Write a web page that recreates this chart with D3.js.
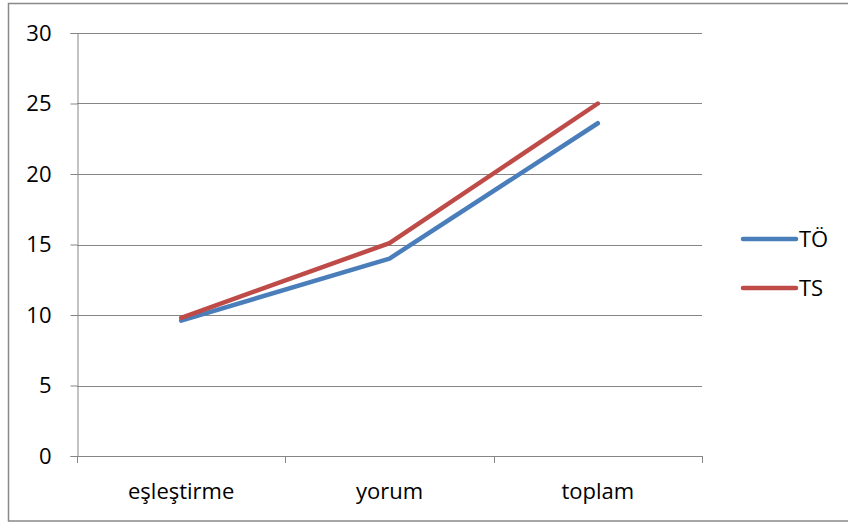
<!DOCTYPE html>
<html>
<head>
<meta charset="utf-8">
<script src="https://cdn.jsdelivr.net/npm/d3@7"></script>
<style>
  html, body { margin: 0; padding: 0; background: #fff; }
  svg { display: block; }
  text { font-family: "Open Sans", sans-serif; fill: #000; }
</style>
</head>
<body>
<svg id="chart" width="848" height="523"></svg>
<script>
const categories = ["eşleştirme", "yorum", "toplam"];
const seriesNames = ["TÖ", "TS"];
const valuesTO = [9.6, 14.0, 23.6];
const valuesTS = [9.8, 15.1, 25.0];
const yTicks = [0, 5, 10, 15, 20, 25, 30];
const colors = ["#4A7EBB", "#BE4B48"];

const svg = d3.select("#chart");
const plot = { left: 77, right: 702, top: 33, bottom: 456 };
const fontSize = "22px";

// outer frame
svg.append("rect")
  .attr("x", 8.5).attr("y", 3.5)
  .attr("width", 850).attr("height", 517.5)
  .attr("fill", "none").attr("stroke", "#898989").attr("stroke-width", 1.5);

const x = d3.scaleBand().domain(categories).range([plot.left, plot.right]).padding(0);
const y = d3.scaleLinear().domain([0, 30]).range([plot.bottom, plot.top]);

// gridlines
svg.append("g")
  .selectAll("line")
  .data(yTicks)
  .join("line")
  .attr("x1", plot.left).attr("x2", plot.right)
  .attr("y1", d => Math.round(y(d)) + 0.5).attr("y2", d => Math.round(y(d)) + 0.5)
  .attr("stroke", "#868686").attr("stroke-width", 1);

// y axis
const yAxis = svg.append("g")
  .attr("transform", `translate(${plot.left + 0.5},0)`)
  .call(d3.axisLeft(y).tickValues(yTicks).tickSize(7).tickPadding(19).tickFormat(d3.format("d")));
yAxis.select(".domain").attr("stroke", "#868686");
yAxis.selectAll(".tick line").attr("stroke", "#868686");
yAxis.selectAll(".tick text").style("font-size", fontSize).style("font-family", "'Open Sans', sans-serif").attr("fill", "#000");

// x axis
const boundaries = [plot.left, ...categories.map(c => x(c) + x.bandwidth())];
const xg = svg.append("g");
xg.append("line")
  .attr("x1", plot.left).attr("x2", plot.right)
  .attr("y1", plot.bottom + 0.5).attr("y2", plot.bottom + 0.5)
  .attr("stroke", "#868686");
xg.selectAll("line.tk")
  .data(boundaries)
  .join("line").attr("class", "tk")
  .attr("x1", d => Math.round(d) + 0.5).attr("x2", d => Math.round(d) + 0.5)
  .attr("y1", plot.bottom).attr("y2", plot.bottom + 7)
  .attr("stroke", "#868686");
xg.selectAll("text")
  .data(categories)
  .join("text")
  .attr("x", d => x(d) + x.bandwidth() / 2)
  .attr("y", 499)
  .attr("text-anchor", "middle")
  .style("font-size", fontSize)
  .text(d => d);

// lines
const series = [valuesTO, valuesTS];
const line = d3.line()
  .x((d, i) => x(categories[i]) + x.bandwidth() / 2)
  .y(d => y(d));
svg.append("g")
  .selectAll("path")
  .data(series)
  .join("path")
  .attr("d", d => line(d))
  .attr("fill", "none")
  .attr("stroke", (d, i) => colors[i])
  .attr("stroke-width", 4.5)
  .attr("stroke-linecap", "round")
  .attr("stroke-linejoin", "round");

// legend
const legend = svg.append("g");
const legendY = [239, 288];
seriesNames.forEach((name, i) => {
  legend.append("line")
    .attr("x1", 743).attr("x2", 796)
    .attr("y1", legendY[i]).attr("y2", legendY[i])
    .attr("stroke", colors[i]).attr("stroke-width", 4.5)
    .attr("stroke-linecap", "round");
  legend.append("text")
    .attr("x", 799).attr("y", legendY[i])
    .attr("dy", "0.36em")
    .style("font-size", fontSize)
    .text(name);
});
</script>
</body>
</html>
